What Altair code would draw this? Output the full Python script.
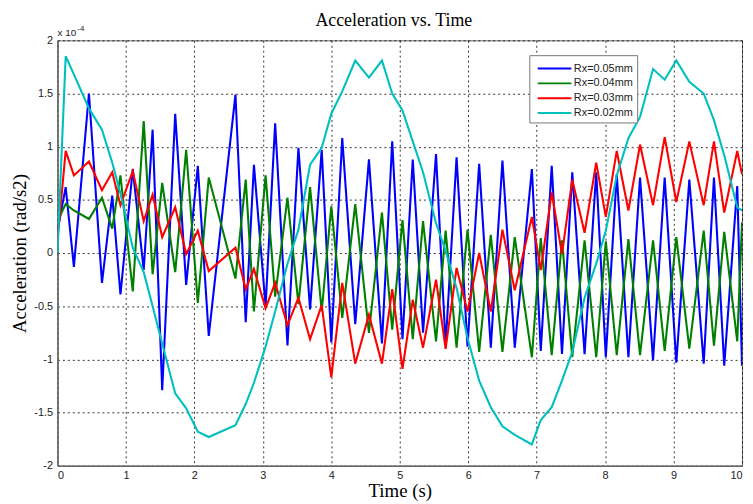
import altair as alt
import pandas as pd

# time grid (s)
t = [0.00, 0.12, 0.24, 0.46, 0.65, 0.80, 0.92, 1.10, 1.26, 1.39,
     1.53, 1.72, 1.88, 2.05, 2.21, 2.60, 2.75, 2.87, 3.04, 3.18,
     3.36, 3.52, 3.69, 3.86, 4.00, 4.16, 4.35, 4.55, 4.74, 4.89,
     5.04, 5.19, 5.34, 5.53, 5.67, 5.83, 5.99, 6.16, 6.33, 6.50,
     6.68, 6.93, 7.06, 7.22, 7.37, 7.52, 7.70, 7.87, 8.01, 8.17,
     8.34, 8.51, 8.70, 8.87, 9.04, 9.23, 9.44, 9.59, 9.74, 9.93, 10.00]

# acceleration values in units of 1e-4 rad/s2
rx005 = [0.21, 0.62, -0.13, 1.50, -0.28, 0.54, -0.39, 0.79, -0.16, 1.16,
         -1.29, 1.31, -0.30, 0.82, -0.78, 1.49, -0.65, 0.83, -0.50, 1.22,
         -0.87, 0.99, -0.53, 0.97, -0.84, 1.08, -0.67, 0.88, -0.85, 1.05,
         -0.81, 0.88, -0.75, 0.93, -0.87, 0.90, -0.88, 0.84, -0.89, 0.87,
         -0.89, 0.79, -0.92, 0.82, -0.95, 0.76, -0.95, 0.76, -0.98, 0.74,
         -0.98, 0.71, -1.01, 0.71, -1.03, 0.69, -1.04, 0.71, -1.06, 0.63, -1.06]

rx004 = [0.30, 0.46, 0.40, 0.32, 0.52, 0.23, 0.73, -0.36, 1.24, -0.20,
         0.66, -0.18, 0.97, -0.47, 0.71, -0.24, 0.69, -0.55, 0.73, -0.41,
         0.52, -0.48, 0.62, -0.55, 0.44, -0.61, 0.46, -0.75, 0.38, -0.72,
         0.31, -0.81, 0.30, -0.83, 0.21, -0.89, 0.22, -0.93, 0.17, -0.93,
         0.15, -0.98, 0.14, -0.96, 0.12, -0.98, 0.12, -0.98, 0.11, -0.96,
         0.13, -0.96, 0.12, -0.92, 0.15, -0.90, 0.21, -0.87, 0.20, -0.83, 0.29]

rx003 = [0.12, 0.96, 0.73, 0.86, 0.59, 0.76, 0.45, 0.77, 0.30, 0.55,
         0.15, 0.43, -0.01, 0.21, -0.17, 0.05, -0.34, -0.15, -0.52, -0.28,
         -0.68, -0.42, -0.81, -0.49, -1.17, -0.28, -1.04, -0.58, -1.04, -0.34,
         -1.09, -0.44, -0.89, -0.25, -0.90, -0.14, -0.55, 0.00, -0.55, 0.22,
         -0.35, 0.34, -0.16, 0.57, -0.01, 0.69, 0.19, 0.85, 0.34, 0.96,
         0.40, 1.02, 0.45, 1.09, 0.48, 1.05, 0.45, 1.05, 0.38, 0.96, 0.74]

rx002 = [0.00, 1.85, 1.68, 1.36, 1.16, 0.85, 0.56, 0.05, -0.18, -0.50,
         -0.85, -1.32, -1.46, -1.68, -1.73, -1.62, -1.42, -1.22, -0.88, -0.55,
         -0.10, 0.22, 0.83, 0.99, 1.31, 1.52, 1.81, 1.65, 1.81, 1.50,
         1.34, 1.05, 0.76, 0.28, 0.02, -0.33, -0.80, -1.20, -1.45, -1.63,
         -1.71, -1.80, -1.57, -1.45, -1.20, -0.93, -0.42, -0.10, 0.21, 0.73,
         1.08, 1.28, 1.73, 1.63, 1.81, 1.61, 1.50, 1.25, 0.92, 0.43, 0.40]

series_names = ["Rx=0.05mm", "Rx=0.04mm", "Rx=0.03mm", "Rx=0.02mm"]
series_colors = ["#0000FF", "#008000", "#FF0000", "#00BFBF"]
y_ticks = [-2, -1.5, -1, -0.5, 0, 0.5, 1, 1.5, 2]
x_ticks = [0, 1, 2, 3, 4, 5, 6, 7, 8, 9, 10]

rows = []
for name, vals in zip(series_names, [rx005, rx004, rx003, rx002]):
    for i, (tt, v) in enumerate(zip(t, vals)):
        rows.append({"t": tt, "a": v, "series": name, "idx": i})
df = pd.DataFrame(rows)

serif = "Liberation Serif"
sans = "Liberation Sans"

lines = alt.Chart(df).mark_line(strokeWidth=2.1, clip=True).encode(
    x=alt.X("t:Q", scale=alt.Scale(domain=[0, 10], nice=False),
            axis=alt.Axis(values=x_ticks, title="Time (s)",
                          labelExpr="toString(datum.value)")),
    y=alt.Y("a:Q", scale=alt.Scale(domain=[-2, 2], nice=False),
            axis=alt.Axis(values=y_ticks, title="Acceleration (rad/s2)",
                          labelExpr="toString(datum.value)")),
    color=alt.Color("series:N",
                    scale=alt.Scale(domain=series_names, range=series_colors),
                    legend=alt.Legend(orient="none", legendX=477, legendY=15,
                                      title=None, symbolType="M-2,0H2",
                                      symbolSize=289, symbolStrokeWidth=2,
                                      symbolOffset=12,
                                      labelFont=sans, labelFontSize=11,
                                      labelColor="#222", padding=4,
                                      rowPadding=0, strokeColor="#777",
                                      fillColor="white", labelOffset=10)),
    order="idx:Q",
)

exp_base = alt.Chart(pd.DataFrame({"s": ["x 10"]})).mark_text(
    font=sans, fontSize=10, align="left", baseline="alphabetic", color="#222"
).encode(x=alt.value(0), y=alt.value(-4), text="s:N")
exp_sup = alt.Chart(pd.DataFrame({"s": ["-4"]})).mark_text(
    font=sans, fontSize=8, align="left", baseline="alphabetic", color="#222"
).encode(x=alt.value(20), y=alt.value(-9), text="s:N")

chart = alt.layer(lines, exp_base, exp_sup).properties(
    width=692, height=430,
    autosize=alt.AutoSizeParams(type="none"),
    padding={"left": 50, "top": 30, "right": 3, "bottom": 36},
    title=alt.Title("Acceleration vs. Time", font=serif, fontSize=18,
                    fontWeight="normal", color="#000", offset=-4, dx=-6),
).configure_view(
    stroke="#666", strokeWidth=1
).configure_axis(
    grid=True, gridColor="#000", gridDash=[2, 3], gridOpacity=0.8,
    gridWidth=1, ticks=False, domainColor="#666", domainWidth=1.5,
    labelFont=sans, labelFontSize=11, labelColor="#222", labelPadding=5,
    titleFont=serif, titleFontSize=19, titleFontWeight="normal",
    titleColor="#000"
).configure_axisY(titlePadding=4).configure_axisX(titlePadding=1, labelPadding=4)

chart.save("out.html", embed_options={"renderer": "svg", "actions": False})
